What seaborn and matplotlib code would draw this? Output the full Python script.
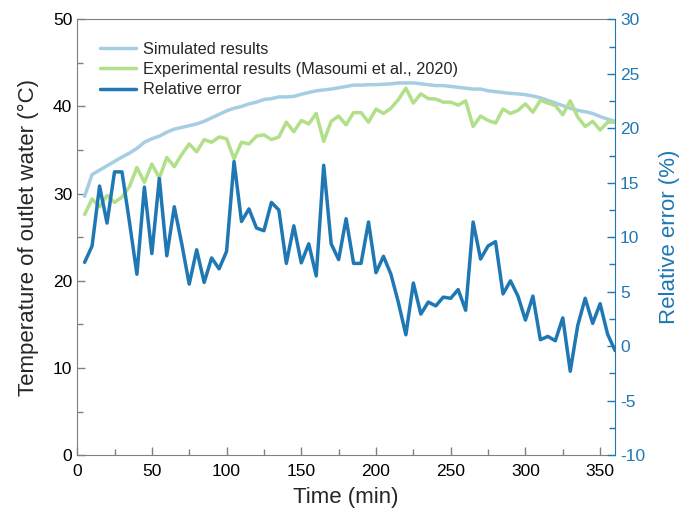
import numpy as np
import pandas as pd
import matplotlib
matplotlib.use("Agg")
import matplotlib.pyplot as plt
from matplotlib.ticker import MultipleLocator
import seaborn as sns

time_min = list(range(5, 361, 5))

simulated = [29.7, 32.2, 32.7, 33.2, 33.7, 34.2, 34.65, 35.2, 35.9, 36.3,
             36.6, 37.05, 37.4, 37.6, 37.8, 38.0, 38.3, 38.7, 39.1, 39.5,
             39.8, 40.0, 40.3, 40.5, 40.8, 40.9, 41.1, 41.1, 41.15, 41.4,
             41.6, 41.8, 41.9, 42.0, 42.15, 42.3, 42.45, 42.45, 42.5, 42.5,
             42.55, 42.6, 42.7, 42.7, 42.7, 42.6, 42.5, 42.4, 42.4, 42.3,
             42.2, 42.1, 42.0, 42.0, 41.8, 41.7, 41.6, 41.5, 41.45, 41.35,
             41.2, 41.0, 40.7, 40.4, 40.1, 39.8, 39.55, 39.4, 39.2, 38.85,
             38.55, 38.3]

experimental = [27.6, 29.4, 28.5, 29.8, 29.0, 29.6, 30.8, 33.0, 31.3, 33.4,
                31.8, 34.15, 33.1, 34.5, 35.7, 34.8, 36.2, 35.9, 36.5, 36.3,
                34.0, 35.9, 35.7, 36.6, 36.75, 36.2, 36.5, 38.2, 37.1, 38.4,
                38.0, 39.2, 36.0, 38.3, 38.9, 37.9, 39.3, 39.3, 38.2, 39.7,
                39.2, 39.8, 40.8, 42.1, 40.4, 41.45, 40.9, 40.85, 40.5, 40.5,
                40.15, 40.65, 37.7, 38.9, 38.4, 38.1, 39.7, 39.2, 39.55, 40.3,
                39.35, 40.7, 40.4, 40.1, 39.05, 40.65, 38.8, 37.7, 38.3, 37.3,
                38.2, 38.2]

relative_error = [7.7, 9.2, 14.7, 11.3, 16.0, 16.0, 11.4, 6.6, 14.6, 8.5,
                  15.4, 8.3, 12.8, 9.4, 5.7, 8.85, 5.85, 8.1, 7.1, 8.7,
                  16.95, 11.45, 12.6, 10.85, 10.6, 13.2, 12.5, 7.6, 11.05, 7.65,
                  9.4, 6.45, 16.6, 9.4, 7.95, 11.7, 7.6, 7.6, 11.4, 6.75,
                  8.25, 6.6, 4.0, 1.05, 5.8, 2.95, 4.05, 3.7, 4.5, 4.4,
                  5.2, 3.3, 11.4, 8.0, 9.2, 9.6, 4.8, 6.0, 4.6, 2.4,
                  4.6, 0.6, 0.9, 0.5, 2.6, -2.3, 1.9, 4.4, 2.1, 3.9,
                  1.1, -0.4]

df = pd.DataFrame({"time": time_min, "sim": simulated,
                   "exp": experimental, "err": relative_error})

sns.set_style("ticks")
plt.rcParams["font.family"] = ["Liberation Sans", "DejaVu Sans"]
plt.rcParams["axes.unicode_minus"] = False

c_sim = "#a6cee3"
c_exp = "#b2df8a"
c_err = "#1f78b4"
gray = "#808080"

fig = plt.figure(figsize=(6.95, 5.22), dpi=100)
ax = fig.add_axes([0.111, 0.128, 0.774, 0.835])
ax2 = ax.twinx()

sns.lineplot(data=df, x="time", y="sim", ax=ax, color=c_sim, linewidth=2.5,
             label="Simulated results", legend=False)
sns.lineplot(data=df, x="time", y="exp", ax=ax, color=c_exp, linewidth=2.5,
             label="Experimental results (Masoumi et al., 2020)", legend=False)
sns.lineplot(data=df, x="time", y="err", ax=ax2, color=c_err, linewidth=2.5,
             label="Relative error", legend=False)

ax.set_xlim(0, 360)
ax.set_ylim(0, 50)
ax2.set_ylim(-10, 30)

ax.xaxis.set_major_locator(MultipleLocator(50))
ax.xaxis.set_minor_locator(MultipleLocator(25))
ax.yaxis.set_major_locator(MultipleLocator(10))
ax.yaxis.set_minor_locator(MultipleLocator(5))
ax2.yaxis.set_major_locator(MultipleLocator(5))
ax2.yaxis.set_minor_locator(MultipleLocator(2.5))

ax.tick_params(axis="both", which="both", direction="in", colors=gray,
               labelcolor="black", labelsize=12.5)
ax.tick_params(which="major", length=6, width=1)
ax.tick_params(which="minor", length=4, width=1)
ax.tick_params(axis="x", pad=6)
ax2.tick_params(axis="y", which="both", direction="in", colors=c_err,
                labelcolor=c_err, labelsize=12.5)
ax2.tick_params(which="major", length=6, width=1)
ax2.tick_params(which="minor", length=4, width=1)

for s in ["left", "bottom", "top"]:
    ax.spines[s].set_color(gray)
    ax.spines[s].set_visible(True)
ax.spines["right"].set_visible(False)
for s in ["left", "bottom", "top"]:
    ax2.spines[s].set_visible(False)
ax2.spines["right"].set_color(c_err)
ax2.spines["right"].set_visible(True)

ax.set_xlabel("Time (min)", fontsize=16, labelpad=6)
ax.set_ylabel("Temperature of outlet water (°C)", fontsize=16, labelpad=10)
ax2.set_ylabel("Relative error (%)", fontsize=16, color=c_err, labelpad=10)

h1, l1 = ax.get_legend_handles_labels()
h2, l2 = ax2.get_legend_handles_labels()
ax2.legend(h1 + h2, l1 + l2, loc="upper left", bbox_to_anchor=(0.022, 0.975),
           frameon=False, fontsize=11.7, handlelength=2.2, handletextpad=0.4,
           labelspacing=0.33, borderaxespad=0.3)

fig.savefig("out.png", dpi=100)
